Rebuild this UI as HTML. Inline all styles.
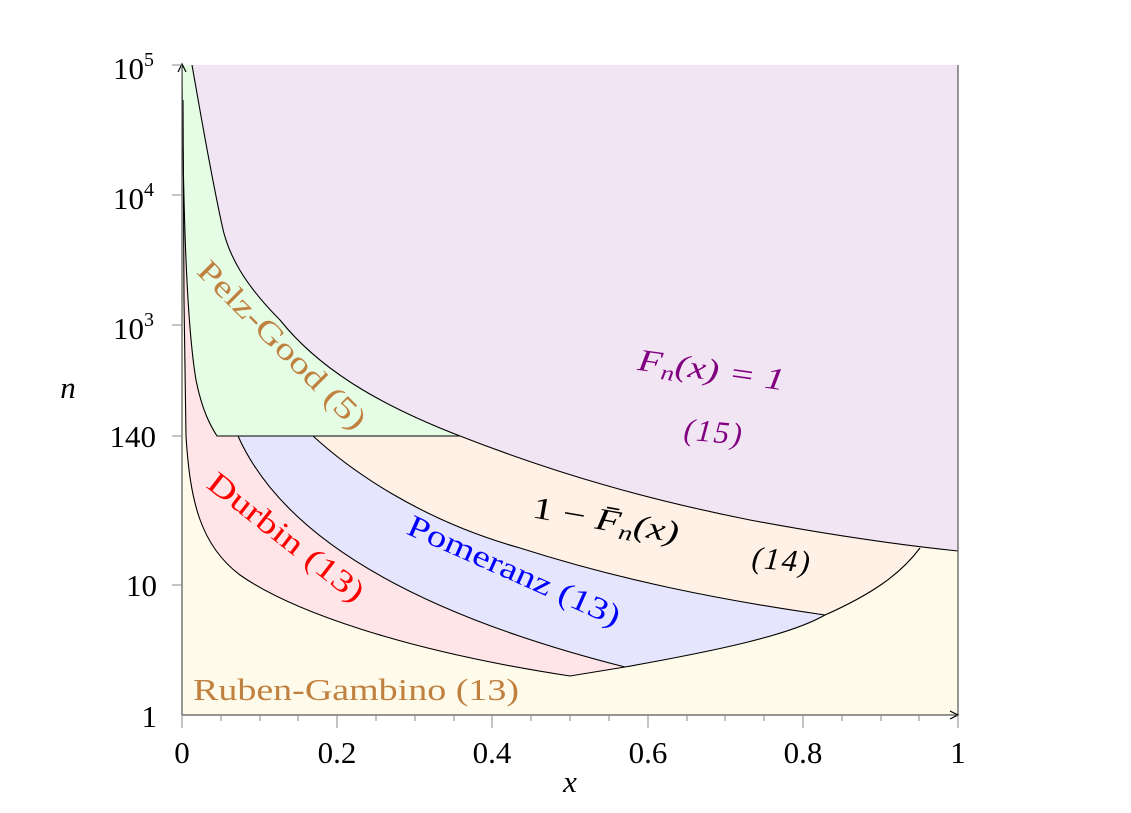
<!DOCTYPE html>
<html><head><meta charset="utf-8"><style>
body{margin:0;background:#fff}
svg{display:block}
text{font-family:"Liberation Serif",serif}
</style></head><body>
<svg width="1131" height="813" viewBox="0 0 1131 813" xmlns="http://www.w3.org/2000/svg">
<defs><clipPath id="c"><rect x="182" y="65" width="776" height="650"/></clipPath></defs>
<g clip-path="url(#c)">
<rect x="182" y="65" width="776" height="650" fill="#fffbea"/>
<path d="M183,65 L184,300 L186,436 C190,500 200,545 240,575 C290,610 400,650 570,676 L625,667 C720,650 790,635 825,615 C870,595 900,575 920,548 L958,551 L958,65 Z" fill="#ffe5e7"/>
<path d="M238,436 C280,530 400,610 625,667 C720,650 790,635 825,615 C870,595 900,575 920,548 L958,551 L958,65 L238,65 Z" fill="#e5e5fd"/>
<path d="M313,436 C350,470 420,520 520,548 C620,580 720,600 825,615 C870,595 900,575 920,548 L958,551 L958,65 L313,65 Z" fill="#fff1e5"/>
<path d="M182,65 C183,200 186,320 196,380 C202,410 210,425 217,436 L460,436 C380,405 320,370 280,320 C245,285 228,255 222,225 C210,170 200,110 192,65 Z" fill="#e5fde5"/>
<path d="M192,65 C200,110 210,170 222,225 C228,255 245,285 280,320 C320,370 380,405 460,436 C560,475 650,500 750,520 C830,535 900,545 958,551 L958,65 Z" fill="#f1e5f3"/>
<g fill="none" stroke="#000" stroke-width="1.1">
<path d="M192,65 C200,110 210,170 222,225 C228,255 245,285 280,320 C320,370 380,405 460,436 C560,475 650,500 750,520 C830,535 900,545 958,551"/>
<path d="M182,65 C183,200 186,320 196,380 C202,410 210,425 217,436 L460,436"/>
<path d="M183,100 L184,300 L186,436 C190,500 200,545 240,575 C290,610 400,650 570,676 L625,667 C720,650 790,635 825,615 C870,595 900,575 920,548"/>
<path d="M238,436 C280,530 400,610 625,667"/>
<path d="M313,436 C350,470 420,520 520,548 C620,580 720,600 825,615"/>
</g>
</g>
<g stroke="#555" stroke-width="1.2" fill="none">
<line x1="182" y1="67" x2="182" y2="715"/>
<line x1="182" y1="715" x2="956" y2="715"/>
<line x1="958" y1="65" x2="958" y2="715"/>
</g>
<path d="M178,72 L182,64 L186,72" fill="none" stroke="#000" stroke-width="1.2"/>
<path d="M950,711 L958,715 L950,719" fill="none" stroke="#000" stroke-width="1.2"/>
<g stroke="#888" stroke-width="1">
<line x1="172" y1="195" x2="182" y2="195"/><line x1="172" y1="325" x2="182" y2="325"/>
<line x1="172" y1="436" x2="182" y2="436"/><line x1="172" y1="585" x2="182" y2="585"/>
<line x1="172" y1="65" x2="182" y2="65"/>
<line x1="182" y1="715" x2="182" y2="728"/><line x1="337" y1="715" x2="337" y2="728"/>
<line x1="492" y1="715" x2="492" y2="728"/><line x1="648" y1="715" x2="648" y2="728"/>
<line x1="803" y1="715" x2="803" y2="728"/><line x1="958" y1="715" x2="958" y2="728"/>
<line x1="221" y1="715" x2="221" y2="721"/><line x1="260" y1="715" x2="260" y2="721"/><line x1="298" y1="715" x2="298" y2="721"/>
<line x1="376" y1="715" x2="376" y2="721"/><line x1="415" y1="715" x2="415" y2="721"/><line x1="454" y1="715" x2="454" y2="721"/>
<line x1="531" y1="715" x2="531" y2="721"/><line x1="570" y1="715" x2="570" y2="721"/><line x1="609" y1="715" x2="609" y2="721"/>
<line x1="687" y1="715" x2="687" y2="721"/><line x1="725" y1="715" x2="725" y2="721"/><line x1="764" y1="715" x2="764" y2="721"/>
<line x1="842" y1="715" x2="842" y2="721"/><line x1="881" y1="715" x2="881" y2="721"/><line x1="919" y1="715" x2="919" y2="721"/>
</g>
<g font-size="31" fill="#000" text-anchor="end">
<text x="154" y="79">10<tspan font-size="20" dy="-13">5</tspan></text>
<text x="154" y="209">10<tspan font-size="20" dy="-13">4</tspan></text>
<text x="154" y="339">10<tspan font-size="20" dy="-13">3</tspan></text>
<text x="156" y="447">140</text>
<text x="157" y="596">10</text>
<text x="157" y="727">1</text>
</g>
<g font-size="31" fill="#000" text-anchor="middle">
<text x="182" y="763">0</text><text x="337" y="763">0.2</text><text x="492" y="763">0.4</text>
<text x="648" y="763">0.6</text><text x="803" y="763">0.8</text><text x="958" y="763">1</text>
<text x="570" y="792" font-style="italic">x</text>
<text x="68" y="398" font-style="italic">n</text>
</g>
<g font-size="31" text-anchor="middle">
<text transform="translate(275,352) rotate(45)" fill="#c0803f" textLength="225" lengthAdjust="spacingAndGlyphs">Pelz-Good (5)</text>
<text transform="translate(280,545) rotate(38)" fill="#ff0000" textLength="190" lengthAdjust="spacingAndGlyphs">Durbin (13)</text>
<text transform="translate(510,580) rotate(24)" fill="#0000ff" textLength="230" lengthAdjust="spacingAndGlyphs">Pomeranz (13)</text>
<text transform="translate(604,530) rotate(10)" fill="#000" textLength="148" lengthAdjust="spacingAndGlyphs"><tspan>1 − </tspan><tspan font-style="italic">F̄<tspan font-size="21" dy="6">n</tspan><tspan dy="-6">(x)</tspan></tspan></text>
<text transform="translate(780,570) rotate(5)" fill="#000" font-style="italic" textLength="58">(14)</text>
<text transform="translate(710,380) rotate(8)" fill="#800080" font-style="italic" textLength="148" lengthAdjust="spacingAndGlyphs">F<tspan font-size="21" dy="6">n</tspan><tspan dy="-6">(x) = 1</tspan></text>
<text transform="translate(712,442) rotate(5)" fill="#800080" font-style="italic" textLength="58">(15)</text>
<text x="356" y="700" fill="#c0803f" textLength="326" lengthAdjust="spacingAndGlyphs">Ruben-Gambino (13)</text>
</g>
</svg>
</body></html>
